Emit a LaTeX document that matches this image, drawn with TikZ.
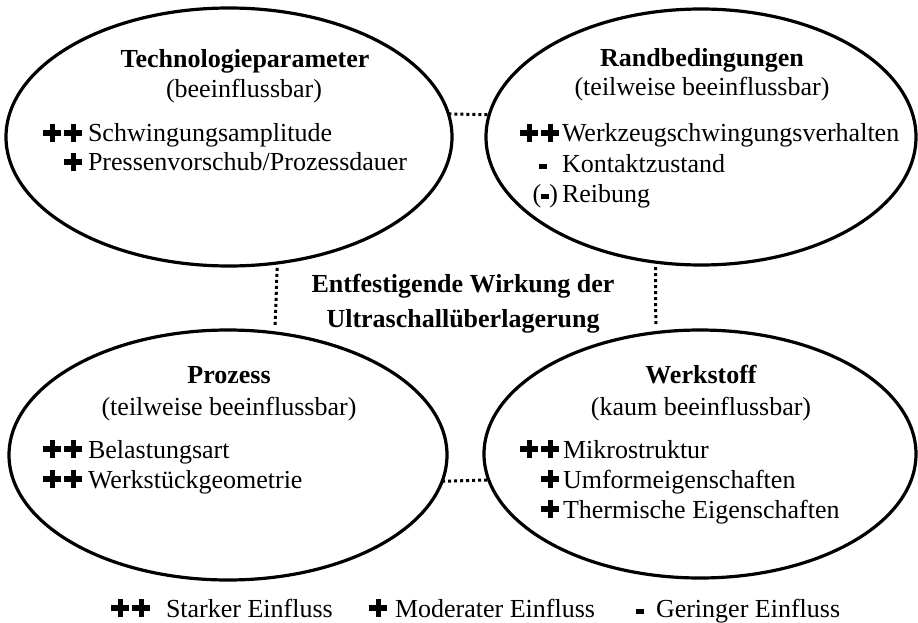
\documentclass[tikz,border=0pt]{standalone}
\usepackage{fontspec}
\setmainfont{Liberation Serif}
\usetikzlibrary{shapes.geometric}

% heavy plus and short bar used as influence markers
\newcommand\pl{\rlap{\rule[6.25pt]{18pt}{5.5pt}}\hspace{6.25pt}\rule[0pt]{5.5pt}{18pt}\hspace{6.25pt}}
\newcommand\pp{\pl\hspace{3pt}\pl}
\newcommand\mi{\rule[3pt]{8pt}{5.5pt}}

\begin{document}
\begin{tikzpicture}[x=1pt,y=-1pt,
  every node/.style={font=\fontsize{26}{30}\selectfont, inner sep=0pt, outer sep=0pt},
  ring/.style={ellipse, draw, line width=3.2pt},
  head/.style={anchor=base, font=\fontsize{26}{30}\selectfont\bfseries},
  sub/.style={anchor=base},
  entry/.style={anchor=base west},
  sym/.style={anchor=base east},
  link/.style={line width=3pt, dash pattern=on 3pt off 3pt}]
\useasboundingbox (0,0) rectangle (918,623);

% the four influence groups
\node[ring, minimum width=446pt, minimum height=258pt] (tl) at (229,137) {};
\node[ring, minimum width=430pt, minimum height=256pt] (tr) at (701,137) {};
\node[ring, minimum width=438pt, minimum height=250pt] (bl) at (228,455) {};
\node[ring, minimum width=432pt, minimum height=248pt] (br) at (700,454) {};

% dotted links between the groups
\draw[link] (tl.6) -- (tr.174);
\draw[link] (bl.-7.2) -- (br.187.4);
\draw[link, shorten <=5pt, shorten >=6pt] (tl.291) -- (bl.69);
\draw[link, shorten <=5pt, shorten >=6pt] (tr.250) -- (br.110);

% Technologieparameter
\node[head] (tlh) at (245,68) {Technologieparameter};
\node[sub] (tls) at (244,98) {(beeinflussbar)};
\node[sym] (tl1s) at (76,142) {\pp};
\node[entry] (tl1) at (88,142) {Schwingungsamplitude};
\node[sym] (tl2s) at (76,171) {\pl};
\node[entry] (tl2) at (88,171) {Pressenvorschub/Prozessdauer};

% Randbedingungen
\node[head] (trh) at (702,67) {Randbedingungen};
\node[sub] (trs) at (702,96) {(teilweise beeinflussbar)};
\node[sym] (tr1s) at (553,142) {\pp};
\node[entry] (tr1) at (562,142) {Werkzeugschwingungsverhalten};
\node[sym] (tr2s) at (547,172) {\mi};
\node[entry] (tr2) at (562,172) {Kontaktzustand};
\node[sym] (tr3s) at (558,202) {(\mi)};
\node[entry] (tr3) at (562,202) {Reibung};

% Prozess
\node[head] (blh) at (229,383) {Prozess};
\node[sub] (bls) at (229,415) {(teilweise beeinflussbar)};
\node[sym] (bl1s) at (76,458) {\pp};
\node[entry] (bl1) at (88,458) {Belastungsart};
\node[sym] (bl2s) at (76,488) {\pp};
\node[entry] (bl2) at (88,488) {Werkstückgeometrie};

% Werkstoff
\node[head] (brh) at (701,383) {Werkstoff};
\node[sub] (brs) at (701,415) {(kaum beeinflussbar)};
\node[sym] (br1s) at (553,458) {\pp};
\node[entry] (br1) at (563,458) {Mikrostruktur};
\node[sym] (br2s) at (553,488) {\pl};
\node[entry] (br2) at (563,488) {Umformeigenschaften};
\node[sym] (br3s) at (553,518) {\pl};
\node[entry] (br3) at (563,518) {Thermische Eigenschaften};

% central statement
\node[head] (c1) at (463,292) {Entfestigende Wirkung der};
\node[head] (c2) at (463,327) {Ultraschallüberlagerung};

% legend
\node[sym] (lg1s) at (144,617) {\pp};
\node[entry] (lg1) at (166,617) {Starker Einfluss};
\node[sym] (lg2s) at (381,617) {\pl};
\node[entry] (lg2) at (395,617) {Moderater Einfluss};
\node[sym] (lg3s) at (644,617) {\mi};
\node[entry] (lg3) at (656,617) {Geringer Einfluss};
\end{tikzpicture}
\end{document}
